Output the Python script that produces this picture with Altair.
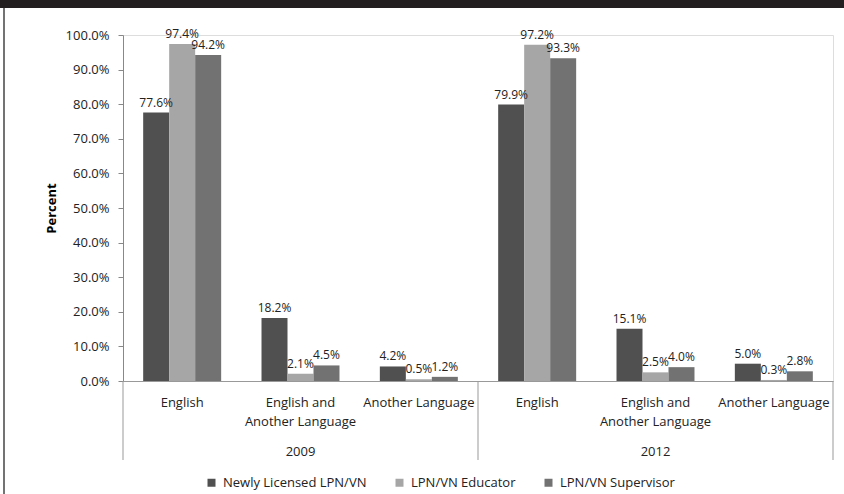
import altair as alt
import pandas as pd

years = ["2009", "2009", "2009", "2012", "2012", "2012"]
categories = ["English", "English and Another Language", "Another Language",
              "English", "English and Another Language", "Another Language"]
series = ["Newly Licensed LPN/VN", "LPN/VN Educator", "LPN/VN Supervisor"]
newly = [77.6, 18.2, 4.2, 79.9, 15.1, 5.0]
educator = [97.4, 2.1, 0.5, 97.2, 2.5, 0.3]
supervisor = [94.2, 4.5, 1.2, 93.3, 4.0, 2.8]
colors = ["#505050", "#a6a6a6", "#727272"]
year_list = ["2009", "2012"]
y_ticks = [0, 10, 20, 30, 40, 50, 60, 70, 80, 90, 100]

keys = [f"{y}|{c}" for y, c in zip(years, categories)]
rows = []
for i, k in enumerate(keys):
    for s, vals in zip(series, [newly, educator, supervisor]):
        rows.append({"key": k, "series": s, "value": vals[i]})
df = pd.DataFrame(rows)

FONT = "Open Sans"
xscale = alt.Scale(domain=keys, paddingInner=0, paddingOuter=0)
x_axis = alt.Axis(
    labelAngle=0, ticks=False, domainColor="#999999", labelColor="#222222",
    labelFont=FONT, labelFontSize=13, labelPadding=15, labelLineHeight=19,
    labelExpr="split(replace(split(datum.label, '|')[1], 'and ', 'and|'), '|')",
)
y_axis = alt.Axis(
    values=y_ticks, grid=False, tickSize=5, tickColor="#888888",
    domainColor="#888888", labelColor="#222222", labelFont=FONT, labelFontSize=13,
    labelPadding=9, labelOverlap=False, labelExpr="format(datum.value, '.1f') + '%'",
    titleFont=FONT, titleFontSize=13, titleFontWeight="bold", titleColor="#000000",
    titlePadding=7,
)
yscale = alt.Scale(domain=[0, 100], nice=False)


def xe(bp=0.5):
    return alt.X("key:N", scale=xscale, sort=keys, title=None, axis=x_axis, bandPosition=bp)


def ye():
    return alt.Y("value:Q", scale=yscale, title="Percent", axis=y_axis)


xoff = alt.XOffset("series:N", sort=series,
                   scale=alt.Scale(paddingOuter=0.776, paddingInner=0))

bars = alt.Chart(df).mark_bar().encode(
    x=xe(), xOffset=xoff, y=ye(),
    color=alt.Color(
        "series:N", sort=series, scale=alt.Scale(domain=series, range=colors),
        legend=alt.Legend(
            orient="none", legendX=82, legendY=441, direction="horizontal", title=None,
            labelFont=FONT, labelFontSize=13, labelColor="#222222",
            symbolType="square", symbolSize=64, symbolStrokeWidth=0,
            columnPadding=26, labelOffset=5, padding=0,
        ),
    ),
)

labels = alt.Chart(df).transform_calculate(
    label="format(datum.value, '.1f') + '%'"
).mark_text(font=FONT, fontSize=12, color="#222222", baseline="alphabetic", dy=-6).encode(
    x=xe(), xOffset=xoff, y=ye(), text="label:N",
)

year_df = pd.DataFrame({"key": [f"{y}|English and Another Language" for y in year_list],
                        "year": year_list})
year_text = alt.Chart(year_df).mark_text(font=FONT, fontSize=13, color="#222222",
                                         baseline="middle").encode(
    x=xe(), y=alt.value(417), text="year:N",
)

sep_df = pd.DataFrame({"key": [f"{y}|English" for y in year_list]})
sep_start = alt.Chart(sep_df).mark_rule(color="#999999").encode(
    x=xe(0), y=alt.value(346), y2=alt.value(425),
)
end_df = pd.DataFrame({"key": [keys[-1]]})
sep_end = alt.Chart(end_df).mark_rule(color="#999999").encode(
    x=xe(1), y=alt.value(346), y2=alt.value(425),
)

one = pd.DataFrame({"a": [0]})
topbar = alt.Chart(one).mark_rect(color="#231f20").encode(
    x=alt.value(-123), x2=alt.value(721), y=alt.value(-35), y2=alt.value(-27),
)
border = alt.Chart(one).mark_rule(color="#444444", strokeWidth=1.5).encode(
    x=alt.value(-119), y=alt.value(-27), y2=alt.value(459),
)

chart = alt.layer(bars, labels, year_text, sep_start, sep_end, topbar, border).properties(
    width=710, height=346,
    autosize=alt.AutoSizeParams(type="none"),
    padding={"left": 123, "top": 35, "right": 11, "bottom": 113},
).configure_view(stroke=None).configure(background="white")

chart.save("out.html", embed_options={"renderer": "svg", "actions": False})
